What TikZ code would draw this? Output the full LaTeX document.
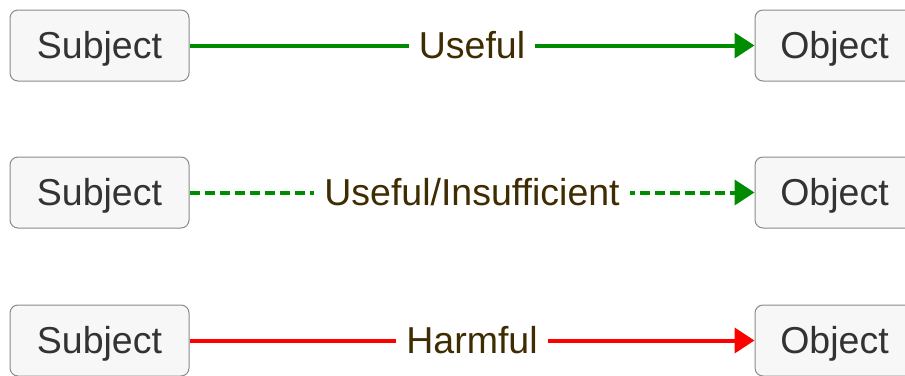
\documentclass[tikz,border=0pt]{standalone}
\usepackage{fontspec}
\setmainfont{Liberation Sans}
\usetikzlibrary{arrows.meta}
\definecolor{boxfill}{HTML}{F7F7F7}
\definecolor{boxline}{HTML}{8A8A8A}
\definecolor{usegreen}{HTML}{008C00}
\definecolor{harmred}{HTML}{FF0000}
\definecolor{labelbrown}{HTML}{3F2C00}
\definecolor{boxtext}{HTML}{333333}
\tikzset{
  elem/.style={draw=boxline, line width=1pt, fill=boxfill, rounded corners=8pt,
    minimum width=179pt, minimum height=71pt, inner sep=0pt,
    text height=26.5pt, text depth=0pt,
    font=\fontsize{37.5}{42}\selectfont, text=boxtext},
  rel/.style={line width=4pt, -{Triangle[length=20pt,width=25pt]}},
  useful/.style={rel, draw=usegreen, usegreen},
  insuff/.style={rel, draw=usegreen, usegreen, dash pattern=on 10pt off 5pt},
  harmful/.style={rel, draw=harmred, harmred},
  lbl/.style={fill=white, text=labelbrown, inner xsep=10pt, inner ysep=6pt,
    text height=26.5pt, text depth=0pt,
    font=\fontsize{37.5}{42}\selectfont}
}
\begin{document}
\begin{tikzpicture}[x=1pt,y=-1pt]
\useasboundingbox (0,0) rectangle (905,375);
\clip (0,0) rectangle (905,375);
\node[elem] (s1) at (99.5,45.5) {Subject};
\node[elem] (o1) at (844.5,45.5) {\hspace*{-20pt}Object};
\node[elem] (s2) at (99.5,192.5) {Subject};
\node[elem] (o2) at (844.5,192.5) {\hspace*{-20pt}Object};
\node[elem] (s3) at (99.5,340.5) {Subject};
\node[elem] (o3) at (844.5,340.5) {\hspace*{-20pt}Object};
\draw[useful] (s1) -- node[lbl] {Useful} (o1);
\draw[insuff] (s2) -- node[lbl] {Useful/Insufficient} (o2);
\draw[harmful] (s3) -- node[lbl] {Harmful} (o3);
\end{tikzpicture}
\end{document}
